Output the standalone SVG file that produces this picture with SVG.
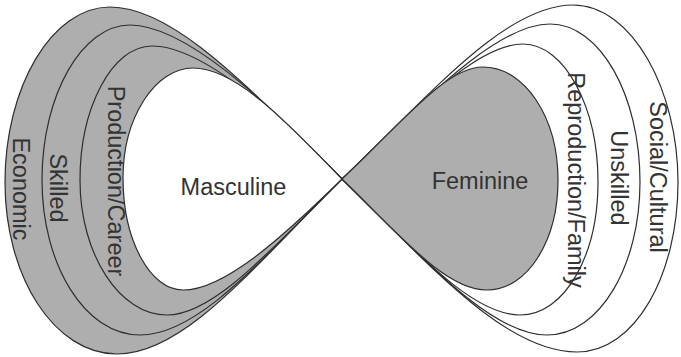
<svg xmlns="http://www.w3.org/2000/svg" width="681" height="357" viewBox="0 0 681 357">
  <style>
    .loop { stroke: #2e2e2e; stroke-width: 1.2; stroke-linejoin: round; }
    .grey { fill: #aeaeae; }
    .white { fill: #ffffff; }
    .none { fill: none; }
    .lbl { font-family: "Liberation Sans", Arial, sans-serif; font-size: 23.5px; fill: #333333; text-anchor: middle; }
  </style>
  <rect width="681" height="357" fill="#ffffff"/>
  <g id="left-loops">
    <g id="economic">
      <path class="loop grey" d="M342,179 C250,90 175,7 110,7 C52,7 5,87 5,182 C5,278 55,354 117,354 C185,354 255,265 342,179 Z"/>
      <text class="lbl" transform="translate(13,189) rotate(90)">Economic</text>
    </g>
    <g id="skilled">
      <path class="loop grey" d="M342,179 C265,100 185,25 130,25 C82,25 42,95 42,180 C42,265 85,335 140,335 C200,335 265,255 342,179 Z"/>
      <text class="lbl" transform="translate(50,188) rotate(90)">Skilled</text>
    </g>
    <g id="production-career">
      <path class="loop grey" d="M342,179 C275,110 200,46 152,46 C112,46 80,108 80,180 C80,255 120,315 167,315 C215,315 275,245 342,179 Z"/>
      <text class="lbl" transform="translate(108,181) rotate(90)">Production/Career</text>
    </g>
    <g id="masculine">
      <path class="loop white" d="M342,179 C285,120 235,68 193,68 C155,68 123,118 123,178 C123,240 150,290 183,290 C225,290 285,235 342,179 Z"/>
      <text class="lbl" x="233.5" y="195">Masculine</text>
    </g>
  </g>
  <g id="right-loops">
    <g id="social-cultural">
      <path class="loop white" d="M342,179 C430,95 505,5 573,5 C632,5 678,90 678,182 C678,275 635,352 577,352 C505,352 430,265 342,179 Z"/>
      <text class="lbl" transform="translate(650,177) rotate(90)">Social/Cultural</text>
    </g>
    <g id="unskilled">
      <path class="loop none" d="M342,179 C420,105 495,24 550,24 C600,24 640,95 640,182 C640,265 600,335 547,335 C490,335 420,255 342,179 Z"/>
      <text class="lbl" transform="translate(611,178) rotate(90)">Unskilled</text>
    </g>
    <g id="reproduction-family">
      <path class="loop none" d="M342,179 C410,115 475,44 523,44 C565,44 598,108 598,182 C598,255 565,315 520,315 C470,315 410,245 342,179 Z"/>
      <text class="lbl" transform="translate(568,180) rotate(90)">Reproduction/Family</text>
    </g>
    <g id="feminine">
      <path class="loop grey" d="M342,179 C400,125 445,67 483,67 C525,67 558,118 558,180 C558,240 528,290 487,290 C445,290 400,235 342,179 Z"/>
      <text class="lbl" x="480" y="189">Feminine</text>
    </g>
  </g>
</svg>
